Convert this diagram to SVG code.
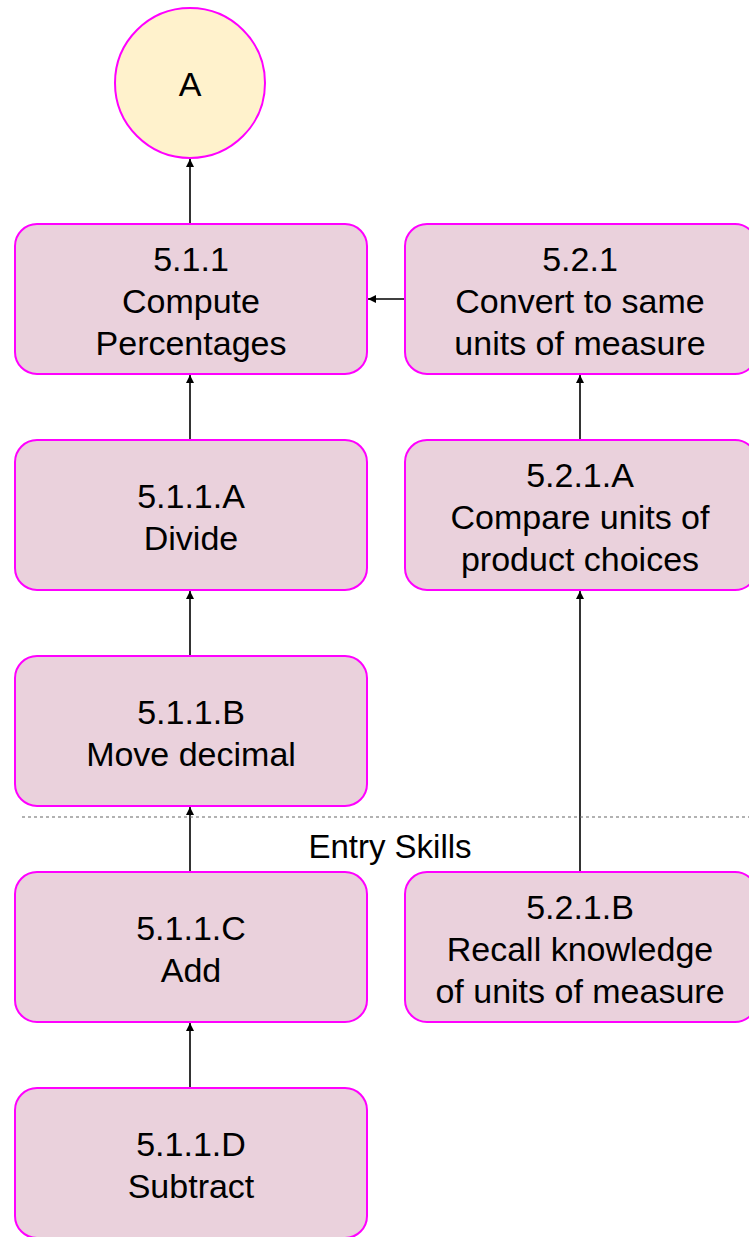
<svg xmlns="http://www.w3.org/2000/svg" width="749" height="1237" viewBox="0 0 749 1237">
<style>
.box{fill:#ead1dc;stroke:#ff00ff;stroke-width:2}
.circ{fill:#fff2cc;stroke:#ff00ff;stroke-width:2}
.t{font-family:"Liberation Sans",Arial,sans-serif;font-size:34px;fill:#000;text-anchor:middle}
.c{stroke:#000;stroke-width:1.6;fill:none;marker-end:url(#ah)}
</style>
<defs>
<marker id="ah" viewBox="0 0 10 10" refX="10" refY="5" markerWidth="8" markerHeight="8" markerUnits="userSpaceOnUse" orient="auto">
<path d="M0,0 L10,5 L0,10 z" fill="#000"/>
</marker>
</defs>
<rect width="749" height="1237" fill="#fff"/>
<g id="connectors">
<line class="c" x1="190" y1="224" x2="190" y2="159"/>
<line class="c" x1="405" y1="299" x2="368" y2="299"/>
<line class="c" x1="190" y1="440" x2="190" y2="375"/>
<line class="c" x1="580" y1="440" x2="580" y2="375"/>
<line class="c" x1="190" y1="656" x2="190" y2="591"/>
<line class="c" x1="580" y1="872" x2="580" y2="591"/>
<line class="c" x1="190" y1="872" x2="190" y2="807"/>
<line class="c" x1="190" y1="1088" x2="190" y2="1023"/>
</g>
<g id="divider">
<line x1="22" y1="817" x2="749" y2="817" stroke="#666" stroke-width="1.2" stroke-dasharray="3,3"/>
<text class="t" x="390" y="858" style="font-size:33px">Entry Skills</text>
</g>
<g id="nodeA">
<circle class="circ" cx="190" cy="83" r="75"/>
<text class="t" x="190" y="96">A</text>
</g>
<g id="n511">
<rect class="box" x="15" y="224" width="352" height="150" rx="22"/>
<text class="t" x="191" y="271">5.1.1</text>
<text class="t" x="191" y="313">Compute</text>
<text class="t" x="191" y="355">Percentages</text>
</g>
<g id="n521">
<rect class="box" x="405" y="224" width="352" height="150" rx="22"/>
<text class="t" x="580" y="271">5.2.1</text>
<text class="t" x="580" y="313">Convert to same</text>
<text class="t" x="580" y="355">units of measure</text>
</g>
<g id="n511A">
<rect class="box" x="15" y="440" width="352" height="150" rx="22"/>
<text class="t" x="191" y="508">5.1.1.A</text>
<text class="t" x="191" y="550">Divide</text>
</g>
<g id="n521A">
<rect class="box" x="405" y="440" width="352" height="150" rx="22"/>
<text class="t" x="580" y="487">5.2.1.A</text>
<text class="t" x="580" y="529">Compare units of</text>
<text class="t" x="580" y="571">product choices</text>
</g>
<g id="n511B">
<rect class="box" x="15" y="656" width="352" height="150" rx="22"/>
<text class="t" x="191" y="724">5.1.1.B</text>
<text class="t" x="191" y="766">Move decimal</text>
</g>
<g id="n511C">
<rect class="box" x="15" y="872" width="352" height="150" rx="22"/>
<text class="t" x="191" y="940">5.1.1.C</text>
<text class="t" x="191" y="982">Add</text>
</g>
<g id="n521B">
<rect class="box" x="405" y="872" width="352" height="150" rx="22"/>
<text class="t" x="580" y="919">5.2.1.B</text>
<text class="t" x="580" y="961">Recall knowledge</text>
<text class="t" x="580" y="1003">of units of measure</text>
</g>
<g id="n511D">
<rect class="box" x="15" y="1088" width="352" height="150" rx="22"/>
<text class="t" x="191" y="1156">5.1.1.D</text>
<text class="t" x="191" y="1198">Subtract</text>
</g>
</svg>
